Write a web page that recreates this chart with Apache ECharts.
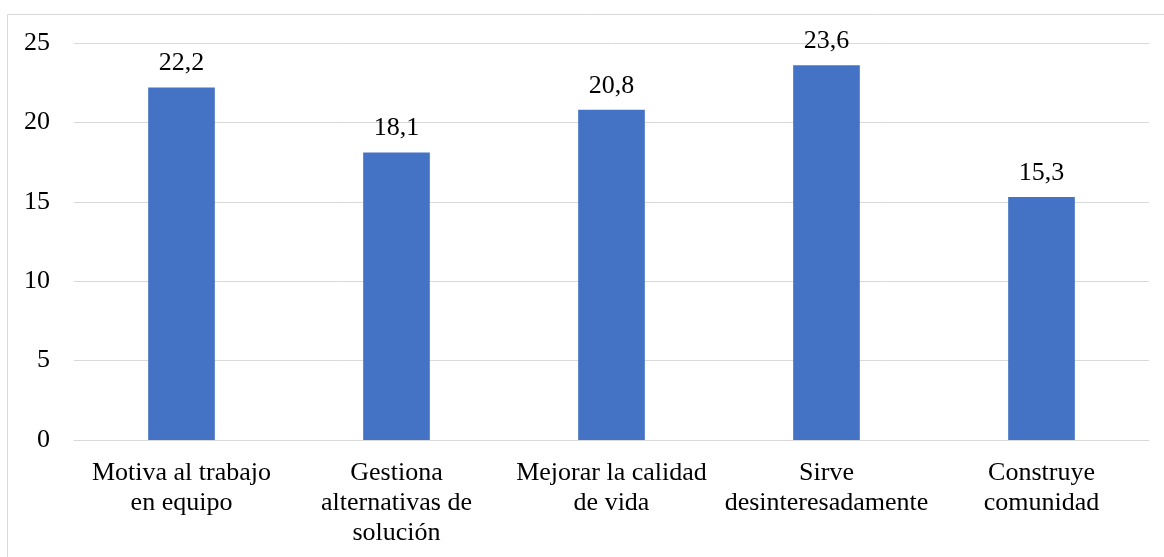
<!DOCTYPE html>
<html>
<head>
<meta charset="utf-8">
<script src="https://cdn.jsdelivr.net/npm/echarts@6/dist/echarts.min.js"></script>
<style>
html,body{margin:0;padding:0;background:#fff;}
#chart{width:1164px;height:557px;}
</style>
</head>
<body>
<div id="chart"></div>
<script>
var categories = ['Motiva al trabajo\nen equipo', 'Gestiona\nalternativas de\nsolución', 'Mejorar la calidad\nde vida', 'Sirve\ndesinteresadamente', 'Construye\ncomunidad'];
var values = [22.2, 18.1, 20.8, 23.6, 15.3];

var chart = echarts.init(document.getElementById('chart'));
var font = '"Liberation Serif", "Times New Roman", serif';
var option = {
    backgroundColor: '#ffffff',
    animation: false,
    graphic: [
        {
            type: 'rect',
            shape: { x: 7.5, y: 14.5, width: 1170, height: 560 },
            style: { fill: 'none', stroke: '#d9d9d9', lineWidth: 1 },
            silent: true
        }
    ],
    grid: {
        left: 74,
        right: 15,
        top: 43,
        bottom: 117,
        containLabel: false
    },
    xAxis: {
        type: 'category',
        data: categories,
        axisLine: { lineStyle: { color: '#d9d9d9', width: 1 } },
        axisTick: { show: false },
        axisLabel: {
            color: '#000',
            fontFamily: font,
            fontSize: 26,
            lineHeight: 30,
            margin: 18,
            interval: 0
        }
    },
    yAxis: {
        type: 'value',
        min: 0,
        max: 25,
        interval: 5,
        axisLine: { show: false },
        axisTick: { show: false },
        splitLine: { lineStyle: { color: '#d9d9d9', width: 1 } },
        axisLabel: {
            color: '#000',
            fontFamily: font,
            fontSize: 26,
            margin: 24
        }
    },
    series: [
        {
            type: 'bar',
            data: values,
            barWidth: '31%',
            itemStyle: { color: '#4472C4' },
            label: {
                show: true,
                position: 'top',
                distance: 11,
                color: '#000',
                fontFamily: font,
                fontSize: 26,
                formatter: function (p) {
                    return p.value.toFixed(1).replace('.', ',');
                }
            }
        }
    ]
};
chart.setOption(option);
</script>
</body>
</html>
